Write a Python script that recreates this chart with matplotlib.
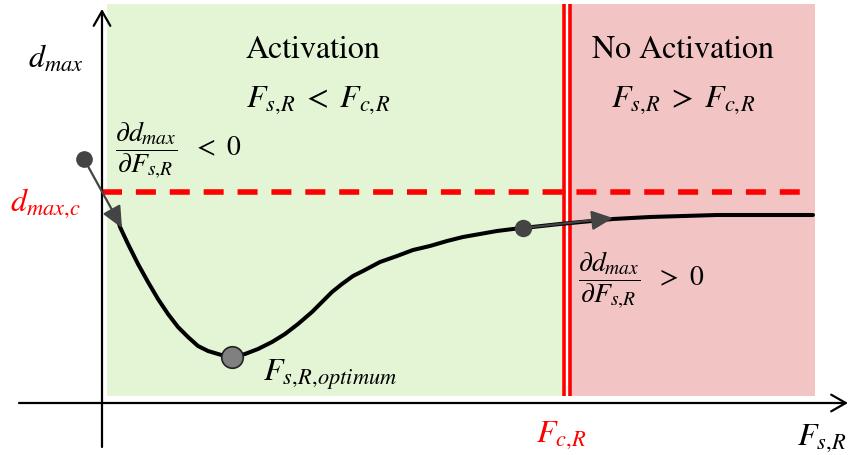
import matplotlib
matplotlib.use("Agg")
import matplotlib.pyplot as plt
from matplotlib.patches import Rectangle, FancyArrowPatch

plt.rcParams['mathtext.fontset'] = 'stix'
plt.rcParams['font.family'] = ['STIXGeneral', 'DejaVu Serif']

# ---- data (diagram units; origin at axis cross) ----
curve_x = [15, 18, 26, 36, 46, 56, 66, 76, 86, 96, 106, 116, 123, 130, 143, 156,
           170, 183, 196, 210, 220, 230, 240, 251, 261, 278, 295, 311, 328, 345,
           361, 378, 395, 411, 421, 458, 511, 548, 615, 711]
curve_y = [186, 176, 159, 139, 121, 104, 89, 76, 66, 57, 52, 49, 47, 46, 49, 54,
           61, 69, 79, 91, 101, 111, 119, 127, 132, 141, 147, 153, 157, 162,
           166, 169, 172, 174, 175, 179, 184, 186, 188, 188]
d_max_c = 211          # critical d_max level
F_c = 465              # critical F_c,R
optimum = (130, 46)    # optimum point
arrow1_start = (-18, 244)
arrow1_end = (20, 175)
arrow2_start = (421, 175)
arrow2_end = (511, 185)
green_span = (5, 460)
red_span = (469, 713)
region_y = (7, 399)
dash_span = (0, 710)
xlim = (-102, 747)
ylim = (-52, 404)

fig = plt.figure(figsize=(8.49, 4.56), dpi=100)
ax = fig.add_axes([0, 0, 1, 1])
ax.set_xlim(*xlim)
ax.set_ylim(*ylim)
ax.axis('off')

# regions
ax.add_patch(Rectangle((green_span[0], region_y[0]), green_span[1] - green_span[0],
                       region_y[1] - region_y[0], facecolor='#e3f5d5', edgecolor='none', zorder=0))
ax.add_patch(Rectangle((red_span[0], region_y[0]), red_span[1] - red_span[0],
                       region_y[1] - region_y[0], facecolor='#f2c4c4', edgecolor='none', zorder=0))

# axes arrows
ax.add_patch(FancyArrowPatch((-83, 0), (746, 0), arrowstyle='->,head_length=7,head_width=4',
                             mutation_scale=1.5, lw=1.6, color='black', zorder=3,
                             shrinkA=0, shrinkB=0))
ax.add_patch(FancyArrowPatch((0, -44), (0, 394), arrowstyle='->,head_length=7,head_width=4',
                             mutation_scale=1.5, lw=1.6, color='black', zorder=3,
                             shrinkA=0, shrinkB=0))

# critical double line
ax.plot([F_c - 3.3, F_c - 3.3], region_y, color='red', lw=2.6, zorder=2, solid_capstyle='butt')
ax.plot([F_c + 3.3, F_c + 3.3], region_y, color='red', lw=2.6, zorder=2, solid_capstyle='butt')

# critical d_max dashed line
ax.plot(dash_span, [d_max_c, d_max_c], color='red', lw=4.0, zorder=2,
        dashes=(3.6, 2.5), solid_capstyle='butt', dash_capstyle='butt')

# curve
ax.plot(curve_x, curve_y, color='black', lw=2.9, zorder=4,
        solid_capstyle='round', solid_joinstyle='round')

# derivative arrows
for s, e, ms in [(arrow1_start, arrow1_end, 11), (arrow2_start, arrow2_end, 11.5)]:
    ax.add_patch(FancyArrowPatch(s, e, arrowstyle='-|>,head_length=6.5,head_width=3',
                                 mutation_scale=2, lw=1.6, color='#444444', zorder=5,
                                 shrinkA=0, shrinkB=0))
    ax.plot([s[0]], [s[1]], 'o', ms=ms, color='#444444', mec='#444444', zorder=6)

# optimum point
ax.plot([optimum[0]], [optimum[1]], 'o', ms=15.5, mfc='#808080', mec='#222222', mew=1.2, zorder=6)

fs = 23
ax.text(211, 354, 'Activation', fontsize=fs, ha='center', va='center')
ax.text(216, 304, r'$F_{s,\!R}\;<\;F_{c,\!R}$', fontsize=fs, ha='center', va='center')
ax.text(581, 354, 'No Activation', fontsize=fs, ha='center', va='center')
ax.text(581, 304, r'$F_{s,\!R}\;>\;F_{c,\!R}$', fontsize=fs, ha='center', va='center')
ax.text(-74, 345, r'$d_{max}$', fontsize=fs, ha='left', va='center')
ax.text(13, 254, r'$\dfrac{\partial d_{max}}{\partial F_{s,\!R}}\ \ <\ 0$', fontsize=fs - 3, ha='left', va='center')
ax.text(-92, 201, r'$d_{max,\!c}$', fontsize=fs, ha='left', va='center', color='red')
ax.text(161, 29, r'$F_{s,\!R,\!optimum}$', fontsize=fs, ha='left', va='center')
ax.text(476, 124, r'$\dfrac{\partial d_{max}}{\partial F_{s,\!R}}\ \ >\ 0$', fontsize=fs - 3, ha='left', va='center')
ax.text(459, -31, r'$F_{c,\!R}$', fontsize=fs, ha='center', va='center', color='red')
ax.text(695, -34, r'$F_{s,\!R}$', fontsize=fs, ha='left', va='center')

fig.savefig('out.png', dpi=100)
